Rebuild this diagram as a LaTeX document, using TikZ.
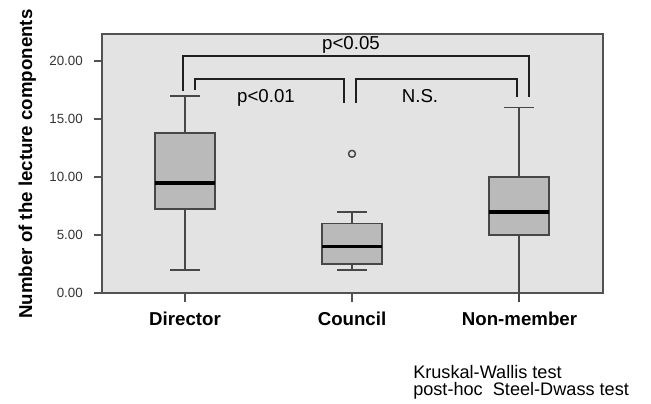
\documentclass[tikz,border=0pt]{standalone}
\usepackage{fontspec}
\setmainfont{Liberation Sans}
\begin{document}
\begin{tikzpicture}[x=0.75pt,y=-0.75pt,
  frame/.style={draw=black!68,line width=1.2pt,fill=black!11},
  whisk/.style={draw=black!72,line width=1.1pt},
  boxst/.style={draw=black!72,line width=1.1pt,fill=black!27},
  med/.style={draw=black,line width=2.6pt},
  brk/.style={draw=black!88,line width=2.2pt},
  tick/.style={draw=black!68,line width=1.1pt},
  ticklab/.style={font=\fontsize{10}{12}\selectfont,text=black!80,anchor=east,inner sep=0pt},
  grp/.style={font=\fontsize{14}{16}\selectfont\bfseries,anchor=base,inner sep=0pt},
  plab/.style={font=\fontsize{14}{16}\selectfont,anchor=base,inner sep=0pt},
  note/.style={font=\fontsize{13.6}{16}\selectfont,anchor=base west,inner sep=0pt}]
\useasboundingbox (0,0) rectangle (651,404);
% frame
\draw[frame] (102,34) rectangle (603,293);
\begin{scope}[shift={(0,293)},y={(0pt,8.7pt)}]
  % y ticks
  \foreach \v/\t in {0/0.00,5/5.00,10/10.00,15/15.00,20/20.00}{
    \draw[tick] (94,\v) -- (102,\v);
    \node[ticklab] (t\v) at (83,\v) {\t};
  }
  % x ticks
  \foreach \xx in {185,352,519}{
    \draw[tick] (\xx,0) -- (\xx,-0.75);
  }
  % Director
  \draw[whisk] (185,2) -- (185,7.25) (185,13.8) -- (185,17);
  \draw[whisk] (170,2) -- (200,2) (170,17) -- (200,17);
  \draw[boxst] (155,7.25) rectangle (215,13.8);
  \draw[med] (155,9.5) -- (215,9.5);
  % Council
  \draw[whisk] (352,2) -- (352,2.5) (352,6) -- (352,7);
  \draw[whisk] (337,2) -- (367,2) (337,7) -- (367,7);
  \draw[boxst] (322,2.5) rectangle (382,6);
  \draw[med] (322,4) -- (382,4);
  \draw[black!72,line width=1.1pt] (352,12) circle (2.6pt);
  % Non-member
  \draw[whisk] (519,-0.75) -- (519,5) (519,10) -- (519,16);
  \draw[whisk] (504,16) -- (534,16);
  \draw[boxst] (489,5) rectangle (549,10);
  \draw[med] (489,7) -- (549,7);
\end{scope}
% brackets
\draw[brk] (183,91) -- (183,56) -- (529,56) -- (529,97);
\draw[brk] (195,90) -- (195,79) -- (344,79) -- (344,103);
\draw[brk] (356,103) -- (356,79) -- (517,79) -- (517,97);
\node[plab] (p05) at (351,49) {p<0.05};
\node[plab] (p01) at (266,102) {p<0.01};
\node[plab] (ns) at (420,102) {N.S.};
% group labels
\node[grp] (g1) at (185,325) {Director};
\node[grp] (g2) at (352,325) {Council};
\node[grp] (g3) at (519.5,325) {Non-member};
% y label
\node[font=\fontsize{14}{16}\selectfont\bfseries,rotate=90,anchor=base,inner sep=0pt] (ylab) at (32,164) {Number of the lecture components};
% notes
\node[note] (n1) at (413,378) {Kruskal-Wallis test};
\node[note] (n2) at (413,395) {post-hoc\ \ Steel-Dwass test};
\end{tikzpicture}
\end{document}
